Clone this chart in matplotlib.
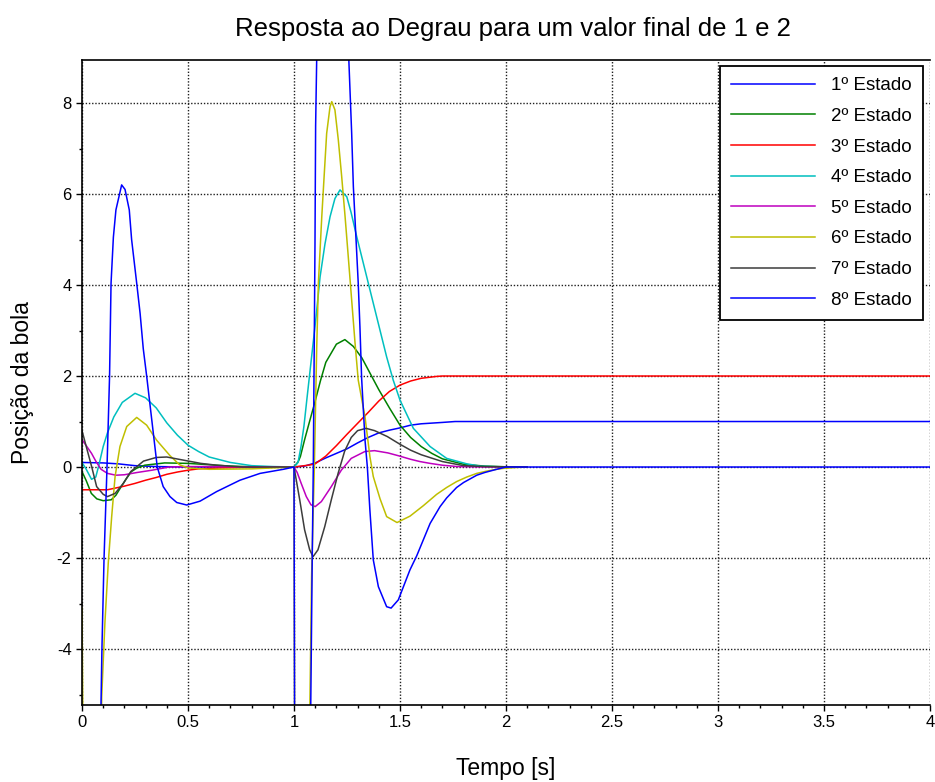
import matplotlib
matplotlib.use("Agg")
import matplotlib.pyplot as plt

plt.rcParams['font.family'] = ['Liberation Sans', 'DejaVu Sans']
plt.rcParams['axes.unicode_minus'] = False

t1 = [0.0, 0.1, 0.17, 0.25, 0.35, 0.5, 1.0, 1.05, 1.1, 1.15, 1.2, 1.25, 1.3,
      1.35, 1.4, 1.45, 1.5, 1.55, 1.6, 1.7, 1.76, 4.0]
x1 = [0.1, 0.09, 0.07, 0.03, 0.01, 0.0, 0.0, 0.02, 0.09, 0.2, 0.3, 0.4, 0.53,
      0.65, 0.75, 0.81, 0.86, 0.92, 0.95, 0.98, 1.0, 1.0]

t2 = [0.0, 0.02, 0.044, 0.07, 0.1, 0.138, 0.16, 0.185, 0.21, 0.233, 0.26,
      0.296, 0.39, 0.5, 0.6, 0.7, 0.85, 1.0, 1.02, 1.03, 1.05, 1.071, 1.1,
      1.125, 1.15, 1.2, 1.24, 1.28, 1.32, 1.36, 1.4, 1.45, 1.5, 1.55, 1.6,
      1.65, 1.7, 1.75, 1.8, 1.9, 2.0, 2.1]
x2 = [-0.1, -0.3, -0.58, -0.7, -0.74, -0.72, -0.62, -0.43, -0.25, -0.1, -0.02,
      0.04, 0.09, 0.08, 0.05, 0.02, 0.0, 0.0, 0.12, 0.23, 0.6, 0.96, 1.45,
      1.9, 2.3, 2.7, 2.8, 2.65, 2.4, 2.05, 1.7, 1.3, 0.92, 0.65, 0.45,
      0.3, 0.18, 0.12, 0.06, 0.02, 0.005, 0.0]

t3 = [0.0, 0.12, 0.2, 0.25, 0.3, 0.35, 0.4, 0.45, 0.5, 0.55, 0.65, 0.8, 1.0,
      1.05, 1.08, 1.1, 1.15, 1.2, 1.25, 1.3, 1.35, 1.4, 1.45, 1.5, 1.55, 1.6,
      1.67, 1.7, 4.0]
x3 = [-0.5, -0.5, -0.42, -0.36, -0.29, -0.23, -0.16, -0.11, -0.07, -0.04,
      -0.02, 0.0, 0.0, 0.03, 0.05, 0.07, 0.24, 0.47, 0.72, 0.96, 1.2, 1.45,
      1.66, 1.8, 1.89, 1.95, 1.99, 2.0, 2.0]

t4 = [0.0, 0.02, 0.045, 0.065, 0.08, 0.1, 0.12, 0.15, 0.19, 0.25, 0.3, 0.35,
      0.4, 0.45, 0.5, 0.55, 0.6, 0.7, 0.8, 0.9, 1.0, 1.019, 1.033, 1.047,
      1.061, 1.083, 1.104, 1.123, 1.146, 1.17, 1.193, 1.217, 1.249, 1.269,
      1.296, 1.343, 1.39, 1.437, 1.468, 1.5, 1.563, 1.642, 1.72, 1.815,
      1.877, 1.972, 2.1]
x4 = [0.1, -0.05, -0.27, -0.22, 0.05, 0.45, 0.75, 1.1, 1.42, 1.62, 1.52, 1.3,
      0.97, 0.7, 0.48, 0.34, 0.22, 0.1, 0.03, 0.01, 0.0, 0.1, 0.45, 0.9,
      1.5, 2.42, 3.3, 4.18, 4.9, 5.5, 5.9, 6.09, 5.94, 5.6, 5.06, 4.18,
      3.3, 2.42, 1.91, 1.47, 0.85, 0.45, 0.19, 0.07, 0.02, 0.005, 0.0]

t5 = [0.0, 0.02, 0.045, 0.065, 0.09, 0.12, 0.16, 0.2, 0.26, 0.33, 0.41, 0.5,
      0.6, 0.8, 1.0, 1.015, 1.034, 1.058, 1.08, 1.1, 1.129, 1.176, 1.223,
      1.27, 1.334, 1.38, 1.443, 1.491, 1.55, 1.594, 1.642, 1.7, 1.77, 1.9,
      2.1]
x5 = [0.6, 0.47, 0.3, 0.13, -0.05, -0.14, -0.18, -0.17, -0.12, -0.07, 0.0,
      0.01, 0.01, 0.0, 0.0, -0.12, -0.36, -0.65, -0.83, -0.87, -0.76, -0.43,
      -0.07, 0.19, 0.34, 0.36, 0.31, 0.25, 0.17, 0.12, 0.08, 0.04, 0.01,
      0.0, 0.0]

t6 = [0.0, 0.008, 0.085, 0.093, 0.108, 0.124, 0.14, 0.156, 0.179, 0.211,
      0.258, 0.305, 0.352, 0.415, 0.46, 0.5, 0.6, 0.8, 0.9, 1.0, 1.004, 1.072,
      1.075, 1.083, 1.096, 1.107, 1.115, 1.131, 1.142, 1.154, 1.17, 1.178,
      1.193, 1.209, 1.225, 1.241, 1.256, 1.272, 1.288, 1.303, 1.335, 1.358,
      1.374, 1.406, 1.437, 1.486, 1.547, 1.61, 1.673, 1.72, 1.767, 1.815,
      1.862, 1.909, 1.956, 1.987, 2.05, 2.1]
x6 = [-3.1, -8.0, -8.0, -5.05, -3.43, -2.1, -1.09, -0.21, 0.45, 0.89, 1.09,
      0.92, 0.59, 0.25, 0.05, -0.02, -0.05, -0.04, -0.02, 0.0, -8.0, -8.0,
      -5.2, -2.4, 0.0, 2.6, 4.04, 5.5, 6.38, 7.33, 7.92, 8.03, 7.85, 7.19,
      6.38, 5.5, 4.62, 3.67, 2.72, 1.91, 1.1, 0.23, -0.21, -0.7, -1.09,
      -1.22, -1.08, -0.85, -0.6, -0.45, -0.32, -0.22, -0.14, -0.09, -0.05,
      -0.03, -0.01, 0.0]

t7 = [0.0, 0.02, 0.046, 0.069, 0.1, 0.12, 0.156, 0.195, 0.23, 0.29, 0.35,
      0.4, 0.48, 0.56, 0.635, 0.76, 1.0, 1.027, 1.05, 1.074, 1.09, 1.113,
      1.145, 1.176, 1.208, 1.239, 1.27, 1.3, 1.34, 1.38, 1.44, 1.5, 1.55,
      1.6, 1.7, 1.8, 1.9, 2.1]
x7 = [0.8, 0.45, 0.0, -0.43, -0.6, -0.65, -0.58, -0.36, -0.1, 0.13, 0.21,
      0.22, 0.15, 0.08, 0.04, 0.0, 0.0, -0.72, -1.38, -1.82, -1.97, -1.82,
      -1.31, -0.72, -0.14, 0.35, 0.65, 0.8, 0.85, 0.8, 0.67, 0.5, 0.37, 0.27,
      0.12, 0.03, 0.01, 0.0]

t8 = [0.0, 0.086, 0.0896, 0.094, 0.104, 0.118, 0.13, 0.137, 0.148, 0.16,
      0.187, 0.203, 0.223, 0.234, 0.258, 0.274, 0.289, 0.305, 0.33, 0.355,
      0.383, 0.415, 0.447, 0.494, 0.557, 0.635, 0.745, 0.84, 0.95, 1.0, 1.004,
      1.076, 1.079, 1.086, 1.091, 1.096, 1.099, 1.102, 1.107, 1.12, 1.18,
      1.25, 1.259, 1.272, 1.28, 1.292, 1.303, 1.311, 1.319, 1.335, 1.346,
      1.358, 1.374, 1.398, 1.437, 1.458, 1.492, 1.547, 1.579, 1.61, 1.642,
      1.689, 1.72, 1.767, 1.8, 1.862, 1.9, 1.956, 2.0, 4.0]
x8 = [-8.0, -8.0, -5.23, -4.0, -2.0, 0.0, 2.0, 4.04, 5.05, 5.65, 6.2, 6.1,
      5.65, 5.0, 4.04, 3.38, 2.6, 2.0, 1.0, 0.0, -0.43, -0.65, -0.78, -0.835,
      -0.75, -0.54, -0.29, -0.14, -0.05, 0.0, -8.0, -8.0, -5.23, -2.0, 0.0,
      3.0, 4.9, 7.5, 8.95, 11.0, 13.0, 11.0, 8.9, 7.34, 6.16, 5.06, 4.04,
      3.08, 1.95, 0.59, 0.0, -0.95, -2.04, -2.63, -3.07, -3.1, -2.92, -2.26,
      -1.95, -1.6, -1.24, -0.87, -0.68, -0.45, -0.34, -0.18, -0.12, -0.05,
      0.0, 0.0]

tempos = [t1, t2, t3, t4, t5, t6, t7, t8]
estados = [x1, x2, x3, x4, x5, x6, x7, x8]
cores = ['b', 'g', 'r', 'c', 'm', 'y', '#3c3c3c', 'b']
rotulos = ['1º Estado', '2º Estado', '3º Estado', '4º Estado',
           '5º Estado', '6º Estado', '7º Estado', '8º Estado']

fig = plt.figure(figsize=(9.35, 7.82), dpi=100)
ax = fig.add_axes([82 / 935, 77 / 782, 848 / 935, 645 / 782])

for t, x, c, r in zip(tempos, estados, cores, rotulos):
    ax.plot(t, x, color=c, linewidth=1.1, label=r)

ax.set_xlim(0, 4)
ax.set_ylim(-5.23, 8.945)
ax.set_xticks([0, 0.5, 1, 1.5, 2, 2.5, 3, 3.5, 4])
ax.set_xticklabels(['0', '0.5', '1', '1.5', '2', '2.5', '3', '3.5', '4'])
ax.set_yticks([-4, -2, 0, 2, 4, 6, 8])
ax.set_xticks([i / 10 for i in range(41)], minor=True)
ax.set_yticks(range(-5, 9), minor=True)
ax.tick_params(which='major', direction='out', length=4, width=1,
               labelsize=12)
ax.tick_params(which='minor', direction='out', length=2.5, width=1)

ax.grid(True, which='major', color='#202020', linewidth=1.0,
        linestyle=(0, (1, 1.3)))
ax.spines['right'].set_visible(False)
for s in ['left', 'bottom', 'top']:
    ax.spines[s].set_linewidth(1.2)

ax.set_title('Resposta ao Degrau para um valor final de 1 e 2',
             fontsize=18.5, pad=17, x=0.508)
ax.set_xlabel('Tempo [s]', fontsize=16.5, labelpad=19)
ax.set_ylabel('Posição da bola', fontsize=16.5, labelpad=16)

leg = ax.legend(loc='upper right', bbox_to_anchor=(0.992, 0.9907),
                borderaxespad=0, fancybox=False, framealpha=1,
                edgecolor='black', fontsize=13.5, handlelength=4.5,
                handletextpad=0.85, labelspacing=0.72, borderpad=0.6)
leg.get_frame().set_linewidth(1.3)

fig.savefig('out.png', dpi=100)
